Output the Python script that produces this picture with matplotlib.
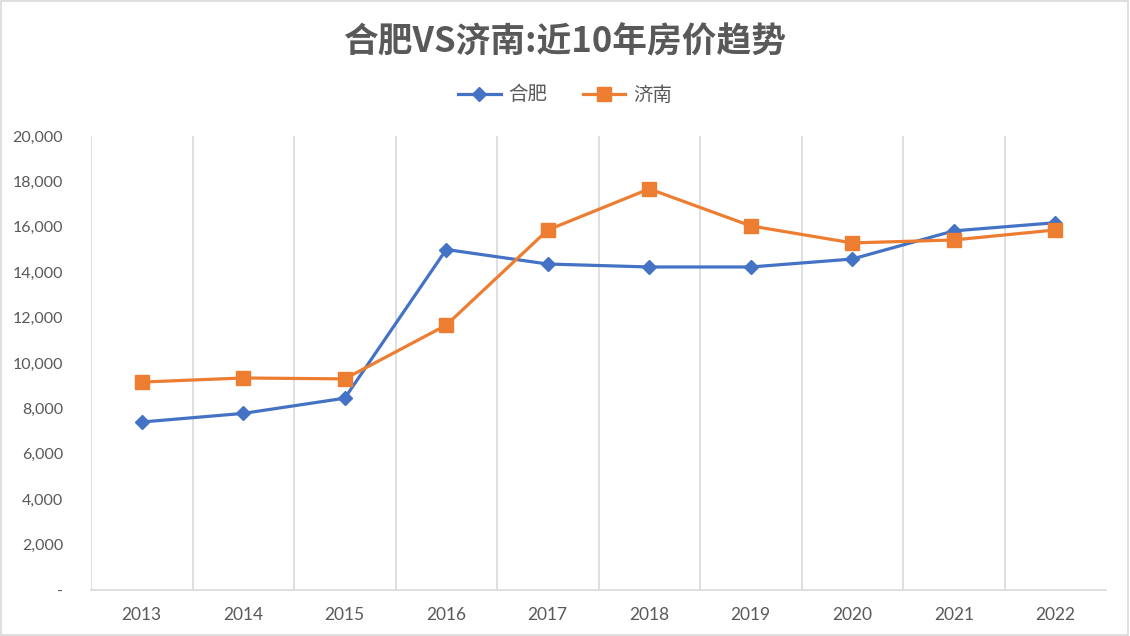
import matplotlib
matplotlib.use("Agg")
import matplotlib.pyplot as plt
from matplotlib.patches import Rectangle
from matplotlib.ticker import FuncFormatter

plt.rcParams['font.family'] = ['Noto Sans CJK SC', 'DejaVu Sans']

years = ['2013', '2014', '2015', '2016', '2017', '2018', '2019', '2020', '2021', '2022']
hefei = [7400, 7780, 8450, 15000, 14360, 14230, 14230, 14580, 15820, 16180]
jinan = [9160, 9340, 9300, 11670, 15860, 17670, 16040, 15290, 15420, 15860]
series_names = ['合肥', '济南']
title = '合肥VS济南:近10年房价趋势'

text_color = '#595959'
grid_color = '#D9D9D9'

fig = plt.figure(figsize=(11.3, 6.36), dpi=100)
ax = fig.add_axes([91/1130, 46/636, (1106-91)/1130, (590-136)/636])

x = list(range(len(years)))
ax.plot(x, hefei, color='#4472C4', lw=2.3, marker='D', ms=7, label=series_names[0], zorder=3)
ax.plot(x, jinan, color='#ED7D31', lw=2.3, marker='s', ms=10, label=series_names[1], zorder=3)

ax.set_xlim(-0.5, 9.5)
ax.set_ylim(0, 20000)
ax.set_yticks(range(0, 20001, 2000))
ax.yaxis.set_major_formatter(FuncFormatter(lambda v, p: '-' if v == 0 else f'{int(v):,}'))
ax.set_xticks(x)
ax.set_xticklabels(years)

for b in [i - 0.5 for i in range(len(years))]:
    ax.axvline(b, color=grid_color, lw=1.2, zorder=1)

for s in ['top', 'right', 'left']:
    ax.spines[s].set_visible(False)
ax.spines['bottom'].set_color(grid_color)
ax.spines['bottom'].set_linewidth(1.2)
ax.tick_params(axis='both', length=0, colors=text_color)
ax.tick_params(axis='y', labelsize=11.5, pad=20)
ax.tick_params(axis='x', labelsize=12.5, pad=12)
for lbl in ax.get_yticklabels() + ax.get_xticklabels():
    lbl.set_family(['Lato', 'DejaVu Sans'])

fig.text(0.5, 1 - 42/636, title, ha='center', va='center', fontsize=25, fontweight='bold', color=text_color)

leg = fig.legend(loc='center', bbox_to_anchor=(0.5, 1 - 95/636), ncol=2, frameon=False,
                 prop={'size': 14}, handlelength=2.2, columnspacing=1.8, labelcolor=text_color,
                 handletextpad=0.4)

fig.patches.append(Rectangle((0.0005, 0.001), 0.998, 0.997, transform=fig.transFigure,
                             fill=False, edgecolor=grid_color, lw=1.2))

fig.savefig('out.png', dpi=100, facecolor='white')
